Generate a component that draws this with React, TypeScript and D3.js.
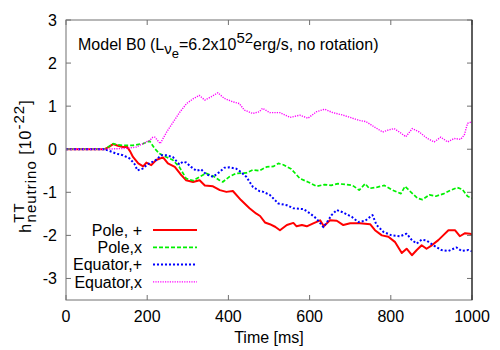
import React from "react";
import * as d3 from "d3";

const xTicks = [0, 200, 400, 600, 800, 1000];
const yTicks = [-3, -2, -1, 0, 1, 2, 3];

const poleP: [number, number][] = [[0,0],[95,0],[105,0.05],[116,0.12],[128,0.08],[140,0.05],[150,0.06],[158,-0.05],[165,-0.18],[178,-0.33],[190,-0.4],[198,-0.31],[210,-0.37],[222,-0.25],[239,-0.19],[251,-0.33],[268,-0.41],[284,-0.6],[296,-0.72],[313,-0.76],[329,-0.72],[342,-0.84],[362,-0.86],[379,-0.95],[395,-0.99],[411,-0.97],[431,-1.18],[452,-1.37],[468,-1.49],[478,-1.55],[490,-1.7],[502,-1.74],[515,-1.8],[527,-1.88],[544,-1.76],[560,-1.71],[568,-1.79],[581,-1.76],[593,-1.79],[609,-1.72],[626,-1.65],[635,-1.79],[650,-1.65],[667,-1.66],[683,-1.76],[700,-1.72],[724,-1.72],[749,-1.74],[761,-1.88],[778,-2.0],[794,-2.03],[810,-2.15],[827,-2.41],[839,-2.31],[852,-2.46],[864,-2.34],[876,-2.23],[888,-2.31],[901,-2.23],[917,-2.11],[929,-2.0],[942,-1.88],[958,-1.88],[970,-2.02],[983,-1.95],[995,-1.96],[1000,-1.98]];

const poleX: [number, number][] = [[0,0],[95,0],[105,0.06],[116,0.13],[128,0.1],[140,0.09],[165,0.09],[190,0.13],[206,0.19],[218,0.02],[230,-0.1],[247,-0.18],[263,-0.25],[279,-0.41],[296,-0.68],[313,-0.73],[329,-0.64],[345,-0.56],[362,-0.62],[378,-0.72],[386,-0.76],[402,-0.64],[419,-0.56],[444,-0.55],[460,-0.48],[476,-0.5],[494,-0.41],[511,-0.4],[523,-0.33],[535,-0.36],[555,-0.46],[576,-0.68],[596,-0.76],[617,-0.86],[637,-0.82],[653,-0.84],[670,-0.8],[690,-0.82],[706,-0.84],[722,-0.95],[737,-0.8],[747,-0.91],[767,-0.88],[784,-0.84],[804,-0.95],[825,-1.03],[835,-0.86],[849,-0.99],[866,-1.14],[878,-1.17],[895,-1.06],[911,-1.09],[931,-1.03],[948,-0.95],[964,-0.89],[976,-0.93],[989,-1.09],[1000,-1.14]];

const eqP: [number, number][] = [[0,0],[95,0],[107,-0.04],[123,-0.1],[140,-0.14],[156,-0.21],[168,-0.33],[176,-0.49],[189,-0.45],[201,-0.35],[214,-0.29],[222,-0.25],[234,-0.14],[247,-0.14],[263,-0.18],[279,-0.35],[288,-0.29],[296,-0.31],[308,-0.41],[321,-0.5],[333,-0.47],[345,-0.58],[362,-0.64],[378,-0.53],[390,-0.43],[402,-0.42],[419,-0.45],[431,-0.53],[444,-0.64],[460,-0.87],[476,-0.97],[486,-0.99],[502,-1.06],[523,-1.26],[544,-1.3],[560,-1.37],[585,-1.39],[601,-1.49],[617,-1.61],[634,-1.81],[646,-1.65],[654,-1.53],[667,-1.41],[683,-1.47],[704,-1.57],[720,-1.69],[737,-1.66],[749,-1.57],[755,-1.53],[765,-1.76],[782,-1.92],[802,-2.0],[823,-2.02],[839,-1.96],[852,-2.11],[864,-2.19],[876,-2.1],[888,-2.12],[905,-2.23],[925,-2.34],[942,-2.36],[962,-2.28],[974,-2.36],[991,-2.34],[1000,-2.37]];

const eqX: [number, number][] = [[0,0],[100,0],[120,0.01],[148,0.02],[173,0.05],[198,0.17],[207,0.21],[214,0.28],[219,0.28],[232,0.13],[248,0.4],[264,0.63],[281,0.87],[297,1.06],[313,1.17],[328,1.25],[342,1.14],[358,1.22],[374,1.31],[390,1.18],[411,1.1],[427,1.06],[439,0.91],[460,0.83],[476,0.87],[484,0.95],[502,0.85],[527,0.85],[552,0.74],[576,0.79],[596,0.72],[617,0.87],[637,0.93],[657,0.85],[683,0.79],[706,0.72],[722,0.67],[739,0.64],[759,0.52],[780,0.4],[792,0.44],[808,0.48],[821,0.4],[837,0.29],[853,0.48],[870,0.4],[890,0.25],[907,0.17],[923,0.28],[940,0.17],[956,0.25],[972,0.23],[981,0.33],[989,0.6],[1000,0.64]];

const seriesNames = ["Pole, +", "Pole,x", "Equator,+", "Equator,x"];
const seriesData = [poleP, poleX, eqP, eqX];
const seriesStyle = [
  { color: "#ff0000", width: 2, dash: "" },
  { color: "#00f000", width: 1.7, dash: "4,2" },
  { color: "#0000ff", width: 2, dash: "2,2" },
  { color: "#ff00ff", width: 1.4, dash: "1.2,1.2" },
];

const FONT = "'Liberation Sans', Arial, sans-serif";

export default function App() {
  const L = 66, R = 472, T = 20, B = 300;
  const x = d3.scaleLinear().domain([0, 1000]).range([L, R]);
  const y = d3.scaleLinear().domain([-3.5, 3]).range([B, T]);
  const line = d3.line<[number, number]>().x(d => x(d[0])).y(d => y(d[1]));
  const border = "#707070";
  const fs = 16;
  const ss = 15;
  return (
    <svg width={500} height={350} style={{ position: "fixed", left: 0, top: 0, background: "#fff" }} fontFamily={FONT}>
      <rect x={0} y={0} width={500} height={350} fill="#fff" />
      <defs>
        <clipPath id="clip"><rect x={L} y={T} width={R - L} height={B - T} /></clipPath>
      </defs>
      <g clipPath="url(#clip)">
        {seriesData.map((d, i) => (
          <path key={i} d={line(d) || ""} fill="none" stroke={seriesStyle[i].color}
            strokeWidth={seriesStyle[i].width} strokeDasharray={seriesStyle[i].dash} strokeLinejoin="round" />
        ))}
      </g>
      {xTicks.map(t => (
        <g key={"x" + t}>
          <line x1={x(t)} x2={x(t)} y1={B} y2={B - 5} stroke={border} />
          <line x1={x(t)} x2={x(t)} y1={T} y2={T + 5} stroke={border} />
          <text x={x(t)} y={322} textAnchor="middle" fontSize={fs} fill="#000">{t}</text>
        </g>
      ))}
      {yTicks.map(t => (
        <g key={"y" + t}>
          <line x1={L} x2={L + 5} y1={y(t)} y2={y(t)} stroke={border} />
          <line x1={R} x2={R - 5} y1={y(t)} y2={y(t)} stroke={border} />
          <text x={57} y={y(t)} dy="0.36em" textAnchor="end" fontSize={fs} fill="#000">{t}</text>
        </g>
      ))}
      <rect x={L} y={T} width={R - L} height={B - T} fill="none" stroke={border} strokeWidth={1} />
      <line x1={R} x2={R} y1={T} y2={B} stroke="#222" strokeWidth={1.2} />
      <text x={78} y={50} fontSize={fs} fill="#000">
        Model B0 (L<tspan fontSize={ss} dy={4}>ν</tspan><tspan fontSize={13} dy={4}>e</tspan><tspan fontSize={fs} dy={-8}>=6.2x10</tspan><tspan fontSize={ss} dy={-7}>52</tspan><tspan fontSize={fs} dy={7}>erg/s, no rotation)</tspan>
      </text>
      <text x={(L + R) / 2} y={343} textAnchor="middle" fontSize={fs} fill="#000">Time [ms]</text>
      <text transform={`translate(31,166) rotate(-90)`} textAnchor="middle" fontSize={fs} fill="#000" letterSpacing={1}>
        h<tspan fontSize={ss} dy={-7}>TT</tspan><tspan fontSize={ss} dx={-20} dy={12}>neutrino</tspan><tspan fontSize={fs} dy={-5}> [10</tspan><tspan fontSize={ss} dy={-7}>-22</tspan><tspan fontSize={fs} dy={7}>]</tspan>
      </text>
      {seriesNames.map((n, i) => {
        const yy = 230 + i * 17.3;
        return (
          <g key={n}>
            <text x={142} y={yy} dy="0.36em" textAnchor="end" fontSize={fs} fill="#000">{n}</text>
            <line x1={153} x2={197} y1={yy} y2={yy} stroke={seriesStyle[i].color}
              strokeWidth={seriesStyle[i].width} strokeDasharray={seriesStyle[i].dash} />
          </g>
        );
      })}
    </svg>
  );
}
